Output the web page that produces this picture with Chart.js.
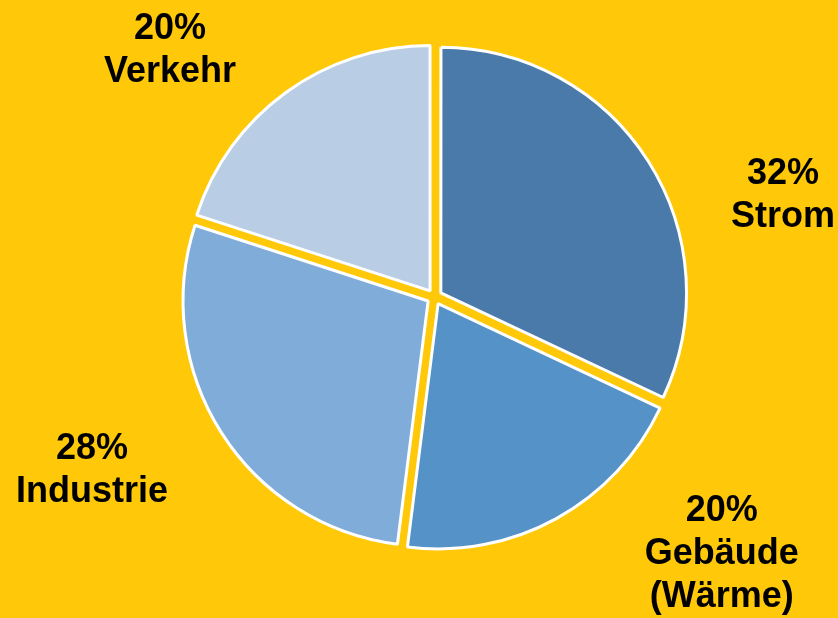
<!DOCTYPE html>
<html>
<head>
<meta charset="utf-8">
<script src="https://cdn.jsdelivr.net/npm/chart.js@4/dist/chart.umd.min.js"></script>
<style>
  html, body { margin: 0; padding: 0; background: #FFC808; }
  #wrap { width: 838px; height: 618px; position: relative; }
</style>
</head>
<body>
<div id="wrap"><canvas id="chart-sektoren"></canvas></div>
<script>
const sektoren = ['Strom', ['Gebäude', '(Wärme)'], 'Industrie', 'Verkehr'];
const anteile = [32, 20, 28, 20];
const farben = ['#4A7AAA', '#5592C8', '#80ACD9', '#B9CDE5'];

// Beschriftung aussen an den Segmenten (Winkel im Uhrzeigersinn ab oben, Abstand relativ zum Radius)
const beschriftung = {
  id: 'beschriftung',
  afterDatasetsDraw(chart, args, opts) {
    const ctx = chart.ctx;
    const arcs = chart.getDatasetMeta(0).data;
    ctx.save();
    ctx.font = opts.font;
    ctx.fillStyle = opts.color;
    ctx.textAlign = 'center';
    ctx.textBaseline = 'alphabetic';
    arcs.forEach((arc, i) => {
      const p = opts.lage[i];
      const a = p.winkel * Math.PI / 180;
      const d = arc.outerRadius * p.abstand;
      const x = arc.x + Math.sin(a) * d;
      const y = arc.y - Math.cos(a) * d;
      const name = chart.data.labels[i];
      const zeilen = [anteile[i] + '%'].concat(Array.isArray(name) ? name : [name]);
      const start = y - (zeilen.length - 1) * opts.zeilenhoehe / 2 + opts.halbeVersalhoehe;
      zeilen.forEach((z, j) => ctx.fillText(z, x, start + j * opts.zeilenhoehe));
    });
    ctx.restore();
  }
};

const dataSektoren = {
  labels: sektoren,
  datasets: [{
    data: anteile,
    backgroundColor: farben,
    borderColor: '#FFFFFF',
    borderWidth: 3,
    offset: 30
  }]
};

const configSektoren = {
  type: 'pie',
  data: dataSektoren,
  options: {
    responsive: true,
    maintainAspectRatio: false,
    animation: false,
    layout: {
      padding: { left: 173, right: 142, top: 35.5, bottom: 59.5 }
    },
    plugins: {
      legend: { display: false },
      tooltip: { enabled: false },
      beschriftung: {
        font: 'bold 36px "Liberation Sans", Arial, sans-serif',
        color: '#000000',
        zeilenhoehe: 43,
        halbeVersalhoehe: 13,
        lage: [
          { winkel: 73.3, abstand: 1.485 },
          { winkel: 131.5, abstand: 1.566 },
          { winkel: 243.5, abstand: 1.562 },
          { winkel: 313.3, abstand: 1.483 }
        ]
      }
    }
  },
  plugins: [beschriftung]
};

const chartSektoren = new Chart(
  document.getElementById('chart-sektoren'),
  configSektoren
);
</script>
</body>
</html>
